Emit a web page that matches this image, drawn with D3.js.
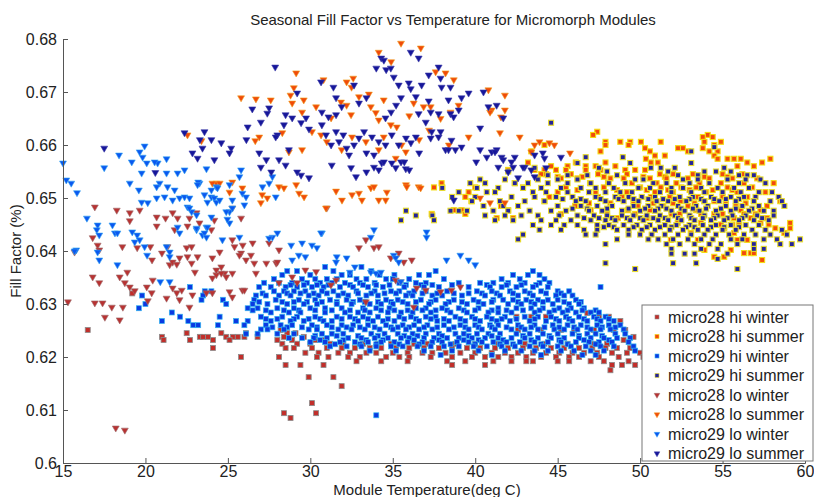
<!DOCTYPE html>
<html>
<head>
<meta charset="utf-8">
<script src="https://cdn.jsdelivr.net/npm/d3@7"></script>
<style>
    body { margin: 0; background: #fff; }
    text { font-family: "Liberation Sans", Arial, sans-serif; fill: #222; }
</style>
</head>
<body>
<svg id="chart" width="814" height="497"></svg>
<script>
const titleText = 'Seasonal Fill Factor vs Temperature for Micromorph Modules';
const xLabel = 'Module Temperature(deg C)';
const yLabel = 'Fill Factor (%)';
const xTicks = [15, 20, 25, 30, 35, 40, 45, 50, 55, 60];
const yTicks = [0.6, 0.61, 0.62, 0.63, 0.64, 0.65, 0.66, 0.67, 0.68];

// square series: each row is [fill factor, temperatures...]
const m28HiWinter = [
    [0.6320, 19.2], [0.6283, 46.8], [0.6276, 42.5, 43.4, 44.3, 45.5, 47.5, 48.1], [0.6268, 48.8],
    [0.6251, 16.5, 28.2, 49.1, 42.6, 44.0, 45.2, 46.0, 47.2, 48.4],
    [0.6245, 22.5, 24.6, 28.6, 29.1, 26.1],
    [0.6238, 21.0, 23.3, 23.5, 23.8, 24.9, 25.3, 25.6, 26.0, 26.8, 28.4, 29.6, 49.6],
    [0.6232, 21.1, 22.7, 24.1, 25.1, 28.0, 28.9, 30.3, 30.9, 49.0],
    [0.6225, 28.3, 29.2, 30.0, 31.2, 32.0, 33.2, 34.1, 34.9, 36.3, 37.1, 38.8, 40.0, 41.4, 43.0, 44.2, 45.6, 47.2, 48.0],
    [0.6217, 24.1, 28.5, 29.0, 30.1, 31.0, 31.9, 32.7, 33.6, 34.3, 35.2, 36.0, 36.9, 37.8, 38.6, 39.5, 40.3, 41.2, 42.0, 42.9, 43.7, 44.6, 45.4, 46.3, 47.1, 47.9, 48.6, 49.4],
    [0.6208, 29.7, 30.5, 31.7, 32.4, 33.4, 34.0, 35.0, 35.9, 36.8, 37.4, 38.2, 39.1, 40.0, 41.0, 41.8, 42.6, 43.5, 44.3, 45.1, 45.9, 46.6, 47.4, 48.3, 49.2, 50.0],
    [0.6200, 25.8, 28.1, 30.4, 31.1, 32.3, 33.0, 34.6, 35.4, 36.0, 37.3, 38.6, 39.8, 40.6, 41.4, 42.2, 43.1, 44.0, 44.9, 45.7, 46.3, 47.5, 48.7, 50.2],
    [0.6192, 32.8, 34.3, 35.9, 38.3, 39.4, 41.1, 42.2, 43.1, 43.5, 45.0, 45.7, 47.0, 47.8, 49.3],
    [0.6185, 28.5, 29.4, 30.8, 38.6, 40.6, 48.3, 48.9, 49.7], [0.6175, 48.2],
    [0.6162, 29.9, 31.4], [0.6145, 31.9], [0.6113, 30.1], [0.6094, 28.4, 30.35], [0.6085, 28.8]
];

const m28HiSummer = [
    [0.6625, 47.4], [0.6619, 47.15, 54.1], [0.6615, 53.8, 54.4],
    [0.6606, 47.9, 48.8, 49.4, 50.05, 51.25, 53.9, 54.9], [0.6600, 44.2, 47.9, 54.5, 49.3],
    [0.6594, 50.3, 52.3, 52.6, 53.8], [0.6588, 43.4, 47.6, 50.6, 52.9, 54.2, 54.7],
    [0.6580, 50.9, 51.5, 54.5], [0.6574, 50.35, 54.7, 55.3, 55.7, 56.1, 57.9],
    [0.6567, 43.2, 46.1, 47.9, 50.65, 51.07, 56.5, 57.4], [0.6560, 44.6, 45.6, 46.7, 47.3, 48.5, 55.9, 56.9],
    [0.6553, 42.0, 43.6, 44.2, 44.9, 45.5, 46.7, 47.6, 49.1, 49.7, 50.3],
    [0.6545, 44.0, 44.3, 45.8, 47.45, 49.2, 51.2, 52.0, 53.2, 55.0, 56.2],
    [0.6540, 45.0, 46.5, 47.8, 50.2, 51.5, 53.9, 55.3],
    [0.6537, 43.8, 45.2, 46.2, 48.2, 49.0, 50.6, 51.6, 52.9, 54.2, 55.6, 57.1],
    [0.6528, 37.96, 42.4, 46.96, 48.05, 49.5, 51.0, 52.2, 53.6, 54.9, 56.3, 58.1],
    [0.6520, 37.5, 38.0, 40.0, 42.9, 45.5, 47.8, 50.0, 51.25, 52.5, 53.4, 55.3, 56.8],
    [0.6515, 46.2, 48.6, 50.4, 51.7, 53.0, 54.4, 55.6],
    [0.6511, 39.6, 45.0, 47.3, 49.2, 50.9, 52.0, 54.0, 55.9, 57.6],
    [0.6502, 39.4, 44.5, 47.45, 48.9, 50.65, 51.8, 53.5, 55.0, 56.5],
    [0.6494, 39.77, 44.2, 49.6, 52.45, 53.9, 54.5, 56.9, 58.5],
    [0.6490, 46.9, 48.2, 50.8, 52.0, 53.3, 55.2, 56.4],
    [0.6485, 41.56, 46.06, 49.86, 51.4, 52.9, 55.8, 57.7],
    [0.6477, 38.7, 39.17, 42.0, 47.0, 49.26, 50.6, 53.4, 56.1, 57.3],
    [0.6470, 37.36, 39.4, 45.2, 48.0, 49.7, 51.9, 52.4, 53.7, 54.5, 55.0, 56.3, 57.0],
    [0.6462, 41.3, 42.3, 48.65, 50.4, 55.7, 56.7, 57.7],
    [0.6453, 52.28, 53.7, 56.0, 57.3, 59.1], [0.6450, 54.9, 55.6, 57.8],
    [0.6443, 55.1, 58.2, 59.1], [0.6434, 53.07, 55.7, 58.75],
    [0.6421, 51.86, 53.5, 56.5, 55.9], [0.6402, 53.9, 55.5], [0.6396, 56.3, 56.7, 56.9],
    [0.6389, 54.5, 55.1], [0.6383, 57.4]
];

const m29HiWinter = [
    [0.6370, 30.9, 33.1], [0.6362, 28.6, 29.2, 31.4, 33.7, 37.6, 43.5],
    [0.6355, 28.3, 30.0, 31.9, 32.4, 34.2, 35.1, 36.6, 37.2, 42.3, 43.2, 43.9],
    [0.6347, 27.8, 29.5, 30.3, 31.0, 31.6, 32.8, 33.4, 34.6, 35.0, 36.0, 38.1, 41.6, 42.7, 44.2],
    [0.6340, 27.2, 28.1, 28.9, 29.8, 30.6, 31.3, 32.1, 33.0, 33.9, 35.4, 36.4, 37.0, 39.0, 40.3, 41.1, 42.0, 43.0, 43.9, 44.5],
    [0.6336, 28.8, 29.6, 30.4, 31.1, 32.4, 33.2, 34.0, 34.8, 35.8, 36.7, 37.4, 38.6, 40.7, 41.9, 42.8, 43.7],
    [0.6332, 22.7, 26.9, 27.6, 28.5, 29.2, 30.1, 30.8, 31.8, 32.6, 33.5, 34.4, 35.7, 36.9, 37.8, 39.6, 40.9, 41.6, 42.5, 43.5, 44.4, 47.6],
    [0.6324, 23.6, 24.0, 27.8, 28.4, 29.0, 29.7, 30.7, 31.4, 32.8, 33.9, 34.9, 35.4, 36.3, 37.0, 38.3, 40.1, 41.0, 42.1, 43.0, 44.0, 45.0, 45.7],
    [0.6320, 27.1, 28.6, 29.4, 30.2, 31.0, 32.0, 32.9, 33.7, 34.5, 35.2, 36.0, 36.8, 37.7, 38.7, 39.6, 40.4, 41.3, 42.3, 43.3, 44.3, 45.2],
    [0.6316, 19.8, 23.5, 26.7, 27.3, 28.1, 28.8, 29.9, 30.5, 31.7, 32.3, 33.4, 34.1, 35.8, 36.2, 37.4, 38.0, 39.2, 40.6, 41.5, 42.6, 43.5, 44.9, 45.4, 45.9],
    [0.6308, 23.4, 24.7, 26.6, 27.9, 29.3, 30.3, 31.2, 32.2, 33.0, 34.6, 35.3, 36.7, 37.6, 38.7, 39.9, 41.1, 41.7, 42.3, 43.1, 43.8, 44.4, 45.0, 46.1],
    [0.6304, 26.9, 28.3, 29.0, 29.8, 30.7, 31.6, 32.6, 33.3, 34.1, 34.9, 35.6, 36.4, 37.3, 38.4, 39.2, 40.2, 41.0, 42.6, 43.4, 44.1, 45.4, 46.4],
    [0.6300, 20.0, 24.9, 26.5, 27.4, 28.6, 29.6, 30.4, 31.6, 32.5, 33.6, 34.3, 35.0, 35.9, 37.2, 38.2, 39.5, 40.5, 42.0, 42.8, 43.6, 44.7, 45.7, 46.3],
    [0.6292, 19.6, 26.2, 26.8, 28.0, 29.0, 30.0, 30.9, 31.9, 33.2, 34.0, 34.8, 36.4, 37.0, 38.0, 39.0, 40.2, 41.4, 42.5, 43.4, 44.1, 45.1, 45.8, 46.6],
    [0.6288, 26.5, 27.3, 28.4, 29.3, 30.3, 31.3, 32.4, 33.3, 34.3, 35.1, 35.9, 36.8, 37.6, 38.3, 39.3, 40.0, 41.0, 41.9, 42.9, 43.9, 44.8, 45.6, 46.5, 47.3],
    [0.6284, 21.6, 27.6, 28.7, 29.4, 30.9, 32.1, 32.9, 33.6, 34.7, 35.5, 36.2, 37.3, 38.5, 39.5, 40.8, 41.4, 42.2, 43.6, 44.5, 45.3, 46.1, 47.0, 47.5],
    [0.6276, 22.1, 24.5, 27.0, 28.3, 29.2, 30.3, 31.6, 32.4, 33.2, 34.1, 35.4, 36.1, 37.0, 37.6, 38.8, 39.8, 40.7, 41.8, 43.0, 43.8, 44.6, 45.5, 46.3, 47.2, 47.9],
    [0.6272, 27.3, 28.0, 29.0, 29.9, 30.6, 31.9, 32.7, 33.5, 34.7, 35.7, 36.4, 37.3, 38.1, 39.1, 40.0, 41.0, 41.6, 42.5, 43.6, 44.9, 45.7, 46.6, 47.4, 48.1],
    [0.6268, 21.0, 22.6, 25.5, 26.2, 27.6, 28.8, 29.6, 30.8, 31.3, 32.9, 33.8, 34.4, 35.1, 36.6, 37.7, 38.4, 39.4, 40.3, 41.3, 42.1, 43.3, 44.3, 45.1, 45.9, 46.8, 47.6, 48.4],
    [0.6260, 22.9, 23.2, 24.4, 26.0, 27.3, 28.2, 28.9, 30.1, 31.0, 31.9, 32.6, 33.5, 34.6, 35.6, 36.3, 37.1, 38.1, 39.1, 40.0, 40.9, 41.4, 42.6, 43.6, 44.7, 45.6, 46.4, 47.4, 48.1, 48.8],
    [0.6256, 27.7, 28.6, 29.5, 30.4, 31.3, 32.2, 33.0, 33.9, 34.9, 35.3, 36.0, 36.9, 37.7, 38.7, 39.4, 40.2, 41.0, 41.9, 42.8, 43.4, 44.2, 45.1, 46.0, 46.8, 47.7, 48.5],
    [0.6252, 27.0, 27.4, 28.4, 29.9, 30.4, 31.7, 32.5, 33.3, 34.2, 35.0, 35.8, 36.6, 37.4, 38.4, 39.6, 40.4, 41.2, 42.2, 43.0, 43.8, 44.8, 45.4, 46.2, 47.0, 47.6, 48.2, 49.0],
    [0.6244, 26.1, 26.8, 28.0, 29.0, 30.7, 31.3, 32.0, 33.7, 34.5, 35.3, 36.2, 37.0, 37.8, 38.8, 39.3, 40.1, 40.8, 41.5, 42.5, 43.3, 44.1, 45.0, 45.9, 46.8, 47.3, 48.5, 49.1],
    [0.6240, 30.3, 31.6, 32.9, 34.1, 35.7, 36.5, 38.0, 39.6, 41.0, 42.9, 44.5, 46.3, 47.7],
    [0.6236, 28.7, 29.5, 30.2, 31.0, 32.3, 33.1, 33.9, 34.7, 35.5, 36.0, 36.9, 37.5, 38.3, 39.0, 39.8, 40.6, 41.4, 42.2, 43.0, 43.8, 44.6, 45.4, 46.3, 47.0, 47.8, 48.6, 49.4],
    [0.6232, 30.6, 32.0, 33.4, 34.4, 36.3, 37.8, 39.3, 40.2, 41.7, 43.4, 45.1, 46.6, 48.1],
    [0.6228, 30.0, 30.9, 31.8, 32.7, 33.5, 34.3, 35.1, 35.9, 36.8, 37.4, 38.0, 38.9, 39.6, 40.4, 41.1, 41.9, 42.7, 43.6, 44.4, 45.2, 46.1, 46.9, 47.5, 48.3, 49.3],
    [0.6224, 31.5, 33.0, 34.0, 35.4, 36.6, 38.5, 40.0, 41.5, 42.3, 44.0, 45.6, 47.3],
    [0.6220, 31.2, 32.2, 33.1, 34.0, 34.9, 35.6, 36.5, 37.3, 38.1, 39.0, 39.9, 40.7, 41.6, 42.4, 43.3, 44.1, 45.0, 45.8, 46.7, 47.6, 48.4, 49.6],
    [0.6212, 33.6, 35.2, 36.9, 38.6, 40.2, 41.8, 42.8, 43.6, 44.4, 45.2, 46.0, 47.0, 47.8, 49.7],
    [0.6204, 37.9, 41.0, 44.0, 46.5, 47.3], [0.6090, 34.0]
];

const m29HiSummer = [
    [0.6642, 44.6], [0.6596, 54.5], [0.6588, 53.1], [0.6577, 48.95, 46.7], [0.6566, 46.2, 49.4, 53.1],
    [0.6557, 43.6, 47.5, 50.65, 51.25, 52.1, 55.1], [0.6550, 42.0, 48.0, 51.7, 53.9, 54.6, 55.5],
    [0.6543, 44.4, 45.6, 46.8, 48.6, 52.3, 53.5, 56.0, 56.5, 56.9],
    [0.6535, 40.3, 41.8, 43.8, 45.0, 46.2, 49.7, 50.2, 52.6, 53.5, 55.3, 56.4, 57.3],
    [0.6528, 39.7, 40.6, 42.4, 43.2, 44.4, 45.6, 47.0, 48.1, 49.1, 50.8, 51.6, 53.0, 54.2, 56.0, 57.6],
    [0.6519, 38.0, 40.1, 41.4, 42.9, 44.0, 45.2, 46.4, 47.3, 48.4, 49.9, 50.6, 51.9, 52.6, 53.7, 54.7, 55.7, 56.6],
    [0.6511, 39.0, 40.7, 41.2, 43.5, 44.3, 45.6, 46.9, 47.9, 48.8, 49.5, 51.2, 51.9, 53.1, 53.9, 55.0, 56.1, 57.2, 58.0],
    [0.6502, 38.6, 40.0, 42.2, 43.6, 44.9, 45.9, 47.3, 48.5, 49.3, 50.1, 50.9, 52.4, 53.2, 54.3, 55.5, 56.3, 57.0, 58.4],
    [0.6498, 45.3, 46.4, 47.6, 48.7, 49.6, 50.5, 51.4, 52.1, 53.0, 53.7, 54.5, 55.2, 56.0],
    [0.6494, 39.8, 41.5, 43.0, 44.2, 46.1, 46.7, 47.9, 49.0, 49.9, 51.0, 51.7, 52.8, 53.9, 54.8, 55.8, 56.9, 57.9, 58.6],
    [0.6485, 40.5, 41.7, 42.6, 45.0, 46.4, 47.4, 48.3, 49.6, 50.5, 51.3, 52.3, 53.4, 54.1, 55.2, 56.2, 57.2, 58.75],
    [0.6480, 45.9, 46.8, 48.0, 49.3, 50.3, 51.1, 51.6, 52.5, 53.2, 54.0, 54.9, 55.8, 56.8],
    [0.6476, 35.8, 38.5, 39.0, 39.5, 41.1, 42.0, 43.3, 44.6, 45.5, 46.9, 47.7, 48.9, 50.0, 50.9, 51.9, 52.7, 53.6, 54.6, 55.5, 56.6, 57.5, 58.1],
    [0.6467, 36.4, 37.4, 40.6, 41.8, 42.8, 43.8, 45.1, 46.2, 47.2, 48.0, 48.9, 49.6, 50.4, 51.2, 52.1, 53.0, 53.9, 54.7, 55.6, 56.4, 57.1, 58.1],
    [0.6462, 46.6, 47.5, 48.3, 49.2, 50.0, 50.8, 51.5, 52.3, 53.1, 53.8, 54.5, 55.3, 56.2, 57.4],
    [0.6458, 35.5, 37.5, 41.2, 42.3, 44.0, 44.9, 45.8, 47.0, 47.9, 48.5, 49.4, 50.2, 51.1, 51.7, 52.5, 53.3, 54.3, 55.1, 56.0, 56.9, 57.8],
    [0.6449, 43.5, 44.6, 45.4, 46.2, 47.4, 48.1, 49.0, 49.8, 50.6, 51.5, 52.2, 53.0, 53.8, 54.6, 55.5, 56.4, 57.2],
    [0.6445, 47.8, 48.4, 49.6, 50.4, 51.2, 51.9, 52.8, 53.3, 54.3, 55.1, 56.0],
    [0.6440, 43.9, 45.2, 46.6, 47.4, 48.6, 49.3, 50.1, 50.9, 51.8, 52.6, 53.5, 54.1, 55.0, 55.8, 56.8, 57.6, 58.6],
    [0.6431, 42.9, 46.7, 47.3, 49.3, 50.0, 50.7, 51.5, 52.3, 53.1, 53.9, 54.6, 55.4, 56.3, 57.0, 57.9, 58.9],
    [0.6422, 42.6, 48.6, 50.5, 51.1, 52.0, 52.9, 53.7, 54.4, 55.5, 56.2, 57.5, 58.3, 59.7],
    [0.6413, 47.9, 51.6, 52.4, 53.3, 54.2, 54.9, 55.9, 56.9, 58.5, 59.2],
    [0.6404, 51.9, 53.7, 54.7, 56.9, 57.5], [0.6395, 51.9, 52.7, 53.3, 55.3], [0.6385, 54.7],
    [0.6377, 47.9, 52.0, 53.4], [0.6366, 49.7, 55.9]
];

// triangle series: [temperature, fill factor]
const m28LoWinter = [
    [16.93, 0.6483], [18.26, 0.6477], [19.05, 0.6472], [19.05, 0.6457], [19.65, 0.6477], [20.68, 0.6464], [20.68, 0.6447],
    [21.22, 0.6462], [21.65, 0.6472], [21.77, 0.644], [21.95, 0.6462], [22.67, 0.6462], [22.55, 0.6447], [23.1, 0.6472],
    [23.28, 0.6453], [24.0, 0.644], [25.8, 0.6462], [25.27, 0.6481], [24.18, 0.6458],
    [16.8, 0.6425], [17.1, 0.6411], [17.2, 0.6402], [15.7, 0.6398], [18.6, 0.6408], [19.5, 0.6406], [20.3, 0.6408],
    [20.4, 0.6383], [21.0, 0.6396], [21.34, 0.6408], [21.47, 0.6374], [21.65, 0.6379], [21.9, 0.6375], [22.07, 0.6387],
    [22.5, 0.6406], [22.8, 0.6408], [22.55, 0.6389], [22.8, 0.6377], [23.0, 0.636], [23.16, 0.6389], [24.06, 0.6387],
    [24.5, 0.6398], [24.6, 0.637], [24.8, 0.6358], [25.27, 0.6421], [25.4, 0.6408], [25.8, 0.6396], [25.9, 0.6411],
    [26.4, 0.6392], [26.5, 0.6415], [26.6, 0.6377], [25.27, 0.6358], [24.06, 0.6349],
    [16.8, 0.6351], [17.2, 0.634], [18.44, 0.6351], [18.75, 0.634], [18.9, 0.636], [19.05, 0.6332], [19.35, 0.6325],
    [20.08, 0.6332], [20.38, 0.6321], [20.44, 0.6345], [21.28, 0.6311], [21.65, 0.633], [21.9, 0.6321], [22.07, 0.6308],
    [22.2, 0.6326], [22.85, 0.6317], [24.06, 0.6321], [24.3, 0.6355], [24.6, 0.6358], [24.9, 0.6351], [15.3, 0.6304],
    [16.93, 0.6302], [17.4, 0.6302], [17.54, 0.6275], [17.96, 0.6294], [18.44, 0.627], [18.63, 0.6294], [20.14, 0.6306],
    [22.67, 0.6294], [25.88, 0.6326], [18.2, 0.6066], [18.75, 0.6062], [23.7, 0.6321], [25.1, 0.6323], [25.27, 0.6313],
    [26.0, 0.6326], [26.7, 0.6358], [27.33, 0.6377], [27.93, 0.6377], [27.5, 0.6415], [26.1, 0.6383], [25.7, 0.6392],
    [24.3, 0.6364], [28.0, 0.6379], [28.1, 0.6402], [29.7, 0.6364], [32.95, 0.6406], [33.37, 0.6421], [33.86, 0.6406],
    [34.15, 0.6408], [34.88, 0.6387], [35.36, 0.6396], [35.67, 0.6379], [36.15, 0.6383], [35.18, 0.6345], [35.48, 0.6342],
    [36.45, 0.633], [37.0, 0.6326], [37.9, 0.6323], [38.56, 0.6326], [39.1, 0.6332], [36.27, 0.6294], [33.37, 0.6304],
    [28.1, 0.634], [28.9, 0.6351], [29.2, 0.634], [30.35, 0.6361], [31.25, 0.6336], [31.56, 0.6345], [31.0, 0.6481]
];

const m28LoSummer = [
    [29.14, 0.6736], [25.8, 0.6689], [26.7, 0.6687], [27.6, 0.6685], [29.0, 0.6708], [28.8, 0.6694], [29.6, 0.6685],
    [29.5, 0.6662], [28.9, 0.6679], [30.35, 0.6672], [30.8, 0.6723], [32.2, 0.6719], [32.6, 0.6726], [32.5, 0.6709],
    [34.15, 0.6775], [35.5, 0.6792], [34.9, 0.6757], [22.55, 0.6619], [23.4, 0.6608], [26.9, 0.6615], [26.66, 0.6608],
    [28.3, 0.6623], [28.7, 0.6587], [29.5, 0.6591], [30.1, 0.6625], [30.65, 0.6619], [31.0, 0.6606], [31.26, 0.6651],
    [31.86, 0.6681], [32.2, 0.6675], [32.47, 0.6657], [32.95, 0.6691], [33.55, 0.6696], [33.67, 0.6672], [33.97, 0.6661],
    [34.45, 0.6685], [34.15, 0.6647], [34.88, 0.6638], [35.24, 0.6634], [34.45, 0.6615], [35.54, 0.66], [35.79, 0.6587],
    [35.18, 0.6575], [34.15, 0.6591], [33.37, 0.6606], [32.53, 0.6615], [31.9, 0.6591],
    [24.3, 0.6528], [25.1, 0.6511], [25.27, 0.653], [25.88, 0.6519], [27.08, 0.6506], [27.39, 0.65], [27.0, 0.6491],
    [28.1, 0.6521], [28.4, 0.6519], [29.14, 0.6525], [29.32, 0.6509], [29.62, 0.6502], [31.56, 0.6513], [31.92, 0.6496],
    [32.53, 0.6506], [32.95, 0.6509], [33.13, 0.6496], [33.67, 0.6519], [34.15, 0.6496], [34.57, 0.6496], [34.64, 0.6511],
    [30.95, 0.6481], [36.7, 0.6783], [40.8, 0.6704], [41.8, 0.6694], [41.0, 0.6666], [41.8, 0.6666], [39.6, 0.6615],
    [41.5, 0.6623], [42.7, 0.6615], [38.7, 0.6723], [37.6, 0.6738], [38.2, 0.6736], [35.8, 0.6525], [36.57, 0.6521],
    [33.86, 0.6521], [36.27, 0.6679], [36.87, 0.6672], [37.3, 0.6672], [38.5, 0.6662], [38.99, 0.6675], [40.9, 0.6662],
    [41.56, 0.6653], [38.4, 0.66], [43.9, 0.6606], [44.5, 0.6604], [44.8, 0.66], [43.4, 0.6587], [43.6, 0.66],
    [45.75, 0.6585], [35.85, 0.6521], [36.69, 0.6519], [40.3, 0.65], [40.9, 0.6491], [41.8, 0.6491], [24.06, 0.6528],
    [24.5, 0.6528], [36.0, 0.6655], [37.2, 0.6628], [36.6, 0.661], [37.9, 0.665]
];

const m29LoWinter = [
    [15.0, 0.6566], [15.2, 0.6534], [15.5, 0.6528], [15.85, 0.651], [18.4, 0.6581], [17.5, 0.6557], [19.17, 0.6568],
    [19.65, 0.6587], [19.95, 0.6598], [19.83, 0.6577], [20.08, 0.6566], [19.77, 0.6547], [19.05, 0.6528], [19.6, 0.6515],
    [16.45, 0.6462], [17.1, 0.6449], [17.05, 0.644], [17.2, 0.643], [15.8, 0.6402], [17.1, 0.6398], [17.2, 0.6383],
    [18.0, 0.6449], [18.15, 0.6434], [18.3, 0.6374], [19.2, 0.6436], [19.5, 0.643], [19.35, 0.6417], [19.65, 0.6421],
    [19.95, 0.6408], [20.1, 0.6392], [20.74, 0.6566], [20.56, 0.6568], [21.28, 0.6574], [21.28, 0.6547], [20.86, 0.6528],
    [21.34, 0.6521], [20.68, 0.6521], [21.77, 0.6515], [21.95, 0.6547], [22.07, 0.65], [21.65, 0.6496], [19.77, 0.6492],
    [20.14, 0.6491], [20.68, 0.65], [21.16, 0.6502], [22.37, 0.6502], [22.67, 0.65], [22.55, 0.6483], [22.8, 0.6474],
    [23.1, 0.6468], [23.1, 0.644], [23.46, 0.643], [23.7, 0.6445], [21.95, 0.6445], [22.07, 0.6434], [21.28, 0.6408],
    [21.47, 0.6398], [21.47, 0.6389], [23.28, 0.6528], [23.58, 0.6506], [23.76, 0.6492], [24.0, 0.6502], [24.18, 0.65],
    [24.3, 0.6521], [24.3, 0.6492], [23.58, 0.6434], [23.7, 0.6426], [24.67, 0.6421], [25.7, 0.6426], [26.0, 0.6487],
    [23.7, 0.6555], [23.2, 0.653], [18.3, 0.6434], [21.47, 0.6342], [15.7, 0.640], [20.9, 0.6342],
    [28.0, 0.6434], [27.7, 0.6426], [27.5, 0.6424], [28.84, 0.6411], [29.5, 0.6415], [30.1, 0.6411], [30.4, 0.6406],
    [29.3, 0.6392], [29.7, 0.6389], [28.9, 0.6383], [30.7, 0.6434], [31.6, 0.6389], [31.56, 0.6379], [32.2, 0.6387],
    [32.7, 0.637], [32.4, 0.636], [33.67, 0.6426], [33.67, 0.636], [33.98, 0.6358], [34.28, 0.636], [35.06, 0.6392],
    [35.18, 0.6387], [35.36, 0.6379], [37.05, 0.6436], [37.05, 0.6426], [38.26, 0.6383], [39.1, 0.6392], [39.6, 0.6383],
    [40.0, 0.6374], [35.48, 0.6342], [30.65, 0.6434], [33.86, 0.644],
    [24.0, 0.6515], [24.5, 0.6496], [25.1, 0.6474], [25.1, 0.6453], [25.27, 0.6496], [25.88, 0.6509], [26.1, 0.6502],
    [27.1, 0.6521], [27.5, 0.6528], [27.9, 0.6502], [27.7, 0.654], [25.1, 0.6525], [25.7, 0.654], [25.8, 0.6553],
    [22.37, 0.6553], [23.16, 0.6525], [24.37, 0.6519], [24.9, 0.6474], [25.27, 0.6481], [24.97, 0.646], [23.76, 0.6445],
    [23.1, 0.6443], [22.67, 0.6481], [24.0, 0.6464]
];

const m29LoSummer = [
    [17.5, 0.6594], [27.87, 0.6747], [23.58, 0.6625], [24.0, 0.661], [24.6, 0.6604], [22.85, 0.6585], [23.16, 0.6575],
    [23.46, 0.6594], [25.2, 0.6594], [25.1, 0.6585], [24.18, 0.6572], [26.48, 0.6668], [27.5, 0.667], [27.0, 0.6643],
    [27.39, 0.666], [26.12, 0.661], [26.9, 0.6585], [27.33, 0.6572], [27.0, 0.6558], [27.63, 0.6549], [28.1, 0.6572],
    [28.7, 0.6591], [28.0, 0.6619], [28.5, 0.6657], [28.4, 0.6638], [28.9, 0.6651], [29.2, 0.6698], [29.44, 0.6642],
    [29.74, 0.6651], [29.92, 0.663], [30.7, 0.6638], [30.95, 0.6619], [29.2, 0.6549], [29.44, 0.6543], [29.92, 0.6538],
    [28.5, 0.6562], [30.65, 0.6719], [31.4, 0.6709], [31.56, 0.6689], [31.9, 0.6672], [32.65, 0.6713], [32.95, 0.6679],
    [33.4, 0.6689], [34.0, 0.6745], [34.3, 0.6764], [34.6, 0.6742], [35.36, 0.6713], [35.2, 0.6675], [35.5, 0.6689],
    [34.9, 0.6662], [34.56, 0.6651], [30.7, 0.6662], [31.1, 0.6653], [31.56, 0.6657], [31.56, 0.6625], [31.26, 0.66],
    [31.74, 0.6606], [32.0, 0.6619], [32.2, 0.6594], [32.65, 0.66], [32.35, 0.6581], [32.95, 0.6613], [33.26, 0.6625],
    [33.74, 0.6615], [34.15, 0.6606], [34.56, 0.66], [34.94, 0.6619], [35.36, 0.66], [35.8, 0.6613], [33.4, 0.6585],
    [33.86, 0.6581], [34.33, 0.6566], [35.18, 0.6557], [35.79, 0.6555], [34.15, 0.6553], [33.4, 0.6549], [32.77, 0.654],
    [32.47, 0.6557], [31.3, 0.6562], [36.09, 0.6775], [36.57, 0.6764], [34.46, 0.676], [34.88, 0.6745], [35.06, 0.6728],
    [35.97, 0.6717], [36.75, 0.6713], [37.18, 0.6732], [37.9, 0.6726], [37.78, 0.6747], [38.5, 0.6709], [37.96, 0.6709],
    [39.17, 0.6689], [39.6, 0.6698], [39.0, 0.6666], [38.38, 0.6685], [37.3, 0.6662], [37.0, 0.6643], [37.36, 0.6625],
    [37.78, 0.6615], [38.56, 0.6609], [39.17, 0.6596], [38.8, 0.6591], [38.2, 0.6591], [36.4, 0.6615], [35.5, 0.6568],
    [34.94, 0.6566], [34.46, 0.6568], [33.86, 0.6558], [36.57, 0.6659], [37.18, 0.6683], [36.4, 0.6691], [36.09, 0.6706],
    [37.78, 0.6659], [38.5, 0.6659], [38.69, 0.6653], [40.5, 0.67], [40.8, 0.6672], [41.3, 0.6675], [41.7, 0.6651],
    [40.3, 0.6632], [41.0, 0.6587], [41.3, 0.6591], [41.6, 0.6577], [42.2, 0.6568], [42.4, 0.6577], [43.0, 0.6558],
    [43.4, 0.6553], [42.0, 0.6549], [40.3, 0.6591], [37.9, 0.6625], [38.38, 0.6591], [40.06, 0.6568], [41.2, 0.6587],
    [41.4, 0.6558], [42.3, 0.6558], [43.6, 0.654], [44.2, 0.6575], [45.2, 0.6577], [42.6, 0.6538], [41.7, 0.6572],
    [40.7, 0.6577], [36.1, 0.6604], [35.7, 0.6568], [36.0, 0.6553], [36.6, 0.6585], [37.3, 0.6613], [38.7, 0.6496],
    [43.6, 0.6581], [44.1, 0.6585], [42.9, 0.6558], [44.3, 0.6557], [26.2, 0.6634], [27.9, 0.6615], [22.37, 0.6623],
    [23.3, 0.661], [20.6, 0.6548]
];

const series = [
    {name: 'micro28 hi winter', shape: 'square', fill: '#c22e2a', stroke: '#8c8c8c', sw: 0.8, rows: m28HiWinter},
    {name: 'micro28 hi summer', shape: 'square', fill: '#f24a0c', stroke: '#f4dc10', sw: 1.1, rows: m28HiSummer},
    {name: 'micro29 hi winter', shape: 'square', fill: '#0a3ae2', stroke: '#34b4f0', sw: 0.7, rows: m29HiWinter},
    {name: 'micro29 hi summer', shape: 'square', fill: '#24249a', stroke: '#e8dc30', sw: 1.1, rows: m29HiSummer},
    {name: 'micro28 lo winter', shape: 'triangle', fill: '#b83232', stroke: '#a07070', pairs: m28LoWinter},
    {name: 'micro28 lo summer', shape: 'triangle', fill: '#f04a0a', stroke: '#f2a020', pairs: m28LoSummer},
    {name: 'micro29 lo winter', shape: 'triangle', fill: '#0a58f0', stroke: '#3aa8f0', pairs: m29LoWinter},
    {name: 'micro29 lo summer', shape: 'triangle', fill: '#16169a', stroke: '#3a3aa8', pairs: m29LoSummer}
];

const svg = d3.select('#chart');
const margin = {top: 39, right: 9, bottom: 34, left: 63};
const width = 814 - margin.left - margin.right;
const height = 497 - margin.top - margin.bottom;

const x = d3.scaleLinear().domain([15, 60]).range([0, width]);
const y = d3.scaleLinear().domain([0.6, 0.68]).range([height, 0]);

const g = svg.append('g').attr('transform', `translate(${margin.left},${margin.top})`);

function points(s) {
    if (s.rows) {
        return s.rows.flatMap(([ff, ...temps]) => temps.map(t => ({x: t, y: ff})));
    }
    return s.pairs.map(([t, ff]) => ({x: t, y: ff}));
}

const triangle = d3.symbol().type(d3.symbolTriangle).size(21)();
const sq = 5;

for (let s of series) {
    let layer = g.append('g');
    let data = points(s);
    if (s.shape === 'square') {
        layer.selectAll('rect')
            .data(data)
            .join('rect')
            .attr('x', d => x(d.x) - sq / 2)
            .attr('y', d => y(d.y) - sq / 2)
            .attr('width', sq)
            .attr('height', sq)
            .attr('fill', s.fill)
            .attr('stroke', s.stroke)
            .attr('stroke-width', s.sw);
    } else {
        layer.selectAll('path')
            .data(data)
            .join('path')
            .attr('d', triangle)
            .attr('transform', d => `translate(${x(d.x)},${y(d.y)}) rotate(180)`)
            .attr('fill', s.fill)
            .attr('stroke', s.stroke)
            .attr('stroke-width', 0.6);
    }
}

// axes, ticks inside like matlab
let xAxis = d3.axisBottom(x).tickValues(xTicks).tickSize(-5).tickPadding(6).tickFormat(d3.format('d'));
let yAxis = d3.axisLeft(y).tickValues(yTicks).tickSize(-5).tickPadding(6).tickFormat(d => String(+d.toFixed(2)));

let gx = g.append('g').attr('transform', `translate(0,${height})`).call(xAxis);
let gy = g.append('g').call(yAxis);
[gx, gy].forEach(a => {
    a.selectAll('path, line').attr('stroke', '#555');
    a.selectAll('text').attr('font-size', 16).attr('fill', '#222');
});
gx.selectAll('text').attr('dy', '0.5em');

svg.append('text')
    .attr('x', 453).attr('y', 25)
    .attr('text-anchor', 'middle')
    .attr('font-size', 15)
    .text(titleText);

svg.append('text')
    .attr('x', 427).attr('y', 495)
    .attr('text-anchor', 'middle')
    .attr('font-size', 15)
    .text(xLabel);

svg.append('text')
    .attr('transform', 'translate(21,251) rotate(-90)')
    .attr('text-anchor', 'middle')
    .attr('font-size', 15)
    .text(yLabel);

// legend
let legend = svg.append('g').attr('transform', 'translate(642,305)');
legend.append('rect')
    .attr('width', 171).attr('height', 156)
    .attr('fill', '#fff').attr('stroke', '#777').attr('stroke-width', 1);

series.forEach((s, i) => {
    let row = legend.append('g').attr('transform', `translate(15,${12 + i * 19.5})`);
    if (s.shape === 'square') {
        row.append('rect').attr('x', -2).attr('y', -2).attr('width', 4).attr('height', 4)
            .attr('fill', s.fill).attr('stroke', s.stroke).attr('stroke-width', 0.6);
    } else {
        row.append('path').attr('d', d3.symbol().type(d3.symbolTriangle).size(14)())
            .attr('transform', 'rotate(180)')
            .attr('fill', s.fill).attr('stroke', s.stroke).attr('stroke-width', 0.5);
    }
    row.append('text')
        .attr('x', 11).attr('y', 0).attr('dy', '0.35em')
        .attr('font-size', 16)
        .text(s.name);
});
</script>
</body>
</html>
